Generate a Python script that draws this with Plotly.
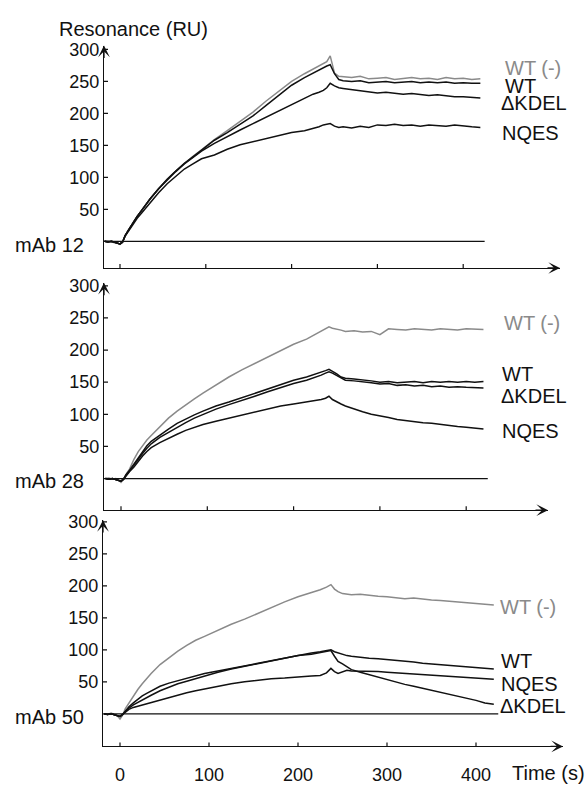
import plotly.graph_objects as go

# ---------------- data ----------------
TIME = [-18, -14, -10, -6, -3, 0, 3, 6, 10, 15, 20, 25, 30, 35, 45, 55, 65, 75, 85, 95,
        110, 125, 140, 155, 170, 185, 200, 215, 225, 232, 237, 241, 245, 250, 255, 260,
        270, 280, 290, 300, 310, 320, 330, 340, 350, 360, 370, 380, 390, 400, 410, 420]

SERIES = ["WT (-)", "WT", "\u0394KDEL", "NQES"]
PANEL_NAMES = ["mAb 12", "mAb 28", "mAb 50"]
Y_TICKS = [50, 100, 150, 200, 250, 300]
X_TICKS = [0, 100, 200, 300, 400]
BASELINE_END = 425

# mAb 12
MAB12_WT_NEG = [0, 1, -1, -2, -3, -5, -2, 9, 18, 29, 39, 48, 57, 66, 82, 97, 110, 122, 133, 143,
                159, 173, 187, 202, 219, 234, 250, 262, 269, 274, 278, 281, 290, 263, 258, 257,
                256, 258, 254, 255, 256, 253, 255, 256, 254, 255, 253, 256, 254, 255, 253, 254]
MAB12_WT = [0, -1, 0, -2, -3, -4, -1, 9, 18, 29, 39, 48, 57, 66, 82, 97, 110, 122, 132, 142,
            158, 170, 183, 196, 212, 228, 244, 256, 263, 268, 272, 274, 276, 262, 253, 251,
            250, 251, 248, 249, 250, 248, 249, 250, 248, 249, 248, 249, 247, 248, 247, 247]
MAB12_DKDEL = [0, -1, 0, -2, -3, -4, -1, 9, 18, 29, 39, 48, 57, 66, 82, 96, 109, 121, 131, 141,
               153, 164, 174, 184, 194, 203, 214, 223, 230, 233, 236, 240, 247, 243, 240, 239,
               237, 236, 233, 232, 233, 231, 230, 231, 229, 228, 229, 227, 226, 226, 225, 224]
MAB12_NQES = [0, -1, 0, -2, -3, -4, -1, 8, 16, 27, 36, 44, 52, 60, 76, 90, 102, 113, 121, 129,
              135, 144, 151, 156, 161, 166, 170, 173, 176, 179, 182, 183, 184, 180, 178, 179,
              177, 180, 178, 182, 181, 183, 181, 182, 180, 182, 181, 180, 182, 180, 179, 178]

# mAb 28
MAB28_WT_NEG = [0, 1, -1, 0, -2, -6, -1, 7, 15, 30, 42, 52, 60, 67, 81, 94, 105, 115, 124, 133,
                146, 158, 169, 179, 190, 200, 209, 217, 224, 229, 232, 236, 234, 233, 231, 229,
                230, 228, 229, 224, 233, 232, 231, 233, 232, 231, 233, 232, 231, 233, 232, 232]
MAB28_WT = [0, -1, 0, -2, -3, -4, -1, 6, 13, 23, 33, 42, 51, 58, 68, 77, 86, 93, 99, 105,
            113, 119, 126, 133, 140, 147, 153, 158, 162, 165, 168, 170, 167, 163, 158, 156,
            155, 154, 152, 150, 151, 149, 150, 151, 149, 151, 150, 151, 150, 151, 150, 151]
MAB28_DKDEL = [0, -1, 0, -2, -3, -4, -1, 6, 12, 21, 31, 39, 47, 54, 64, 72, 80, 87, 94, 100,
               108, 115, 121, 128, 135, 142, 148, 153, 157, 161, 164, 166, 164, 160, 156, 153,
               152, 151, 149, 147, 148, 145, 146, 144, 145, 143, 144, 142, 143, 142, 141, 141]
MAB28_NQES = [0, -1, 0, -2, -3, -4, -1, 5, 11, 18, 27, 35, 42, 48, 56, 63, 69, 75, 80, 84,
              89, 94, 99, 104, 109, 113, 116, 119, 121, 123, 125, 128, 123, 119, 116, 113,
              108, 104, 100, 98, 95, 92, 90, 89, 87, 86, 84, 83, 81, 80, 78, 77]

# mAb 50
MAB50_WT_NEG = [0, -1, 1, -2, -3, -8, -2, 8, 17, 28, 38, 47, 55, 63, 77, 88, 98, 107, 115, 121,
                131, 140, 148, 157, 167, 175, 183, 189, 194, 198, 202, 195, 191, 188, 187, 186,
                187, 185, 184, 183, 182, 180, 181, 179, 178, 177, 176, 174, 173, 172, 171, 170]
MAB50_WT = [0, -1, 0, -2, -3, -4, -1, 5, 11, 17, 23, 28, 32, 36, 43, 48, 52, 56, 60, 63,
            67, 71, 75, 80, 84, 88, 92, 95, 97, 99, 100, 97, 95, 93, 91, 90,
            88, 87, 86, 85, 84, 82, 81, 79, 78, 77, 75, 74, 73, 72, 71, 70]
MAB50_DKDEL = [0, -1, 0, -2, -3, -4, -1, 4, 9, 14, 18, 22, 26, 29, 36, 42, 47, 51, 55, 60,
               65, 70, 74, 79, 83, 87, 91, 93, 96, 98, 99, 90, 82, 78, 73, 69,
               65, 61, 57, 53, 50, 46, 43, 40, 37, 34, 30, 27, 24, 21, 17, 15]
MAB50_NQES = [0, -1, 0, -2, -3, -4, -1, 3, 7, 10, 12, 14, 16, 18, 22, 26, 29, 33, 36, 39,
              43, 47, 50, 53, 55, 56, 57, 59, 60, 64, 71, 66, 63, 65, 68, 67,
              67, 66, 66, 65, 64, 63, 63, 61, 60, 60, 59, 58, 57, 56, 54, 54]

PANEL_DATA = [
    [MAB12_WT_NEG, MAB12_WT, MAB12_DKDEL, MAB12_NQES],
    [MAB28_WT_NEG, MAB28_WT, MAB28_DKDEL, MAB28_NQES],
    [MAB50_WT_NEG, MAB50_WT, MAB50_DKDEL, MAB50_NQES],
]

# ---------------- layout geometry (pixels of the 587x785 page) ----------------
W, H = 587, 785
GEOM = [
    # x of t=0, px per s, y-axis x, arrow x, y of 0 RU, px per RU, arrow y, x-axis y
    dict(x0=120, sx=0.858, left=104, right=560, y0=236, sy=0.647, top=38, bottom=263),
    dict(x0=121, sx=0.863, left=104, right=548, y0=476, sy=0.650, top=278, bottom=508),
    dict(x0=120, sx=0.890, left=103, right=563, y0=714, sy=0.647, top=518, bottom=747),
]
# label positions: (x left, y centre) for each series, per panel
LABEL_POS = [
    [(503, 61), (503, 79), (499, 96), (500, 126)],
    [(502, 319), (500, 370), (499, 393), (500, 428)],
    [(498, 606), (499, 661), (498, 706), (499, 684)],
]
MAB_LABEL_Y = [240, 478, 717]

FONT = "Liberation Sans, Arial, Helvetica, sans-serif"
GRAY = "#8a8a8a"
BLACK = "#111111"
COLORS = [GRAY, BLACK, BLACK, BLACK]


def px_x(p):
    return p / W


def px_y(p):
    return 1 - p / H


fig = go.Figure()
shapes = []
annotations = []

for i, g in enumerate(GEOM):
    n = "" if i == 0 else str(i + 1)
    xr = [(g["left"] - g["x0"]) / g["sx"], (g["right"] - g["x0"]) / g["sx"]]
    yr = [-(g["bottom"] - g["y0"]) / g["sy"], (g["y0"] - g["top"]) / g["sy"]]
    xref, yref = "x" + n, "y" + n

    for k, vals in enumerate(PANEL_DATA[i]):
        fig.add_trace(go.Scatter(x=TIME, y=vals, mode="lines", xaxis=xref, yaxis=yref,
                                 line=dict(color=COLORS[k], width=1.5), hoverinfo="skip",
                                 showlegend=False))

    fig.layout["xaxis" + n] = dict(
        domain=[px_x(g["left"]), px_x(g["right"])], range=xr, anchor=yref,
        showline=True, linecolor=BLACK, linewidth=1.3, showgrid=False, zeroline=False,
        ticks="", tickvals=X_TICKS, showticklabels=(i == 2),
        tickfont=dict(family=FONT, size=18, color=BLACK), ticklabelstandoff=12,
        fixedrange=True)
    fig.layout["yaxis" + n] = dict(
        domain=[px_y(g["bottom"]), px_y(g["top"])], range=yr, anchor=xref,
        showline=True, linecolor=BLACK, linewidth=1.3, showgrid=False, zeroline=False,
        ticks="", tickvals=Y_TICKS, showticklabels=True,
        tickfont=dict(family=FONT, size=18, color=BLACK), ticklabelstandoff=0,
        fixedrange=True)

    # baseline
    shapes.append(dict(type="line", xref=xref, yref=yref, x0=xr[0], x1=BASELINE_END,
                       y0=0, y1=0, line=dict(color=BLACK, width=1.2)))
    # x ticks (crossing the axis)
    for v in X_TICKS:
        shapes.append(dict(type="line", xref=xref, yref=yref, x0=v, x1=v,
                           ysizemode="pixel", yanchor=yr[0], y0=-3, y1=4,
                           line=dict(color=BLACK, width=1.2)))
    # y ticks
    for v in Y_TICKS:
        shapes.append(dict(type="line", xref=xref, yref=yref, y0=v, y1=v,
                           xsizemode="pixel", xanchor=xr[0], x0=0, x1=4,
                           line=dict(color=BLACK, width=1.2)))
    # arrows
    annotations.append(dict(xref=xref, yref=yref, x=xr[1], y=yr[0], ax=-14, ay=0,
                            showarrow=True, arrowhead=3, arrowsize=1.5, arrowwidth=1.3,
                            arrowcolor=BLACK, text=""))
    annotations.append(dict(xref=xref, yref=yref, x=xr[0], y=yr[1], ax=0, ay=14,
                            showarrow=True, arrowhead=3, arrowsize=1.5, arrowwidth=1.3,
                            arrowcolor=BLACK, text=""))
    # series labels
    for k, name in enumerate(SERIES):
        lx, ly = LABEL_POS[i][k]
        annotations.append(dict(xref="paper", yref="paper", x=px_x(lx), y=px_y(ly),
                                xanchor="left", yanchor="middle", showarrow=False,
                                text=name, font=dict(family=FONT, size=20, color=COLORS[k])))
    annotations.append(dict(xref="paper", yref="paper", x=px_x(86), y=px_y(MAB_LABEL_Y[i]),
                            xanchor="right", yanchor="middle", showarrow=False,
                            text=PANEL_NAMES[i], font=dict(family=FONT, size=20, color=BLACK)))

annotations.append(dict(xref="paper", yref="paper", x=px_x(57), y=px_y(21), xanchor="left",
                        yanchor="middle", showarrow=False, text="Resonance (RU)",
                        font=dict(family=FONT, size=20, color=BLACK)))
annotations.append(dict(xref="paper", yref="paper", x=px_x(510), y=px_y(774), xanchor="left",
                        yanchor="middle", showarrow=False, text="Time (s)",
                        font=dict(family=FONT, size=20, color=BLACK)))

fig.update_layout(width=W, height=H, margin=dict(l=0, r=0, t=0, b=0),
                  paper_bgcolor="white", plot_bgcolor="white", showlegend=False,
                  shapes=shapes, annotations=annotations)

POST = ("document.documentElement.style.margin='0';document.documentElement.style.padding='0';"
        "document.body.style.margin='0';document.body.style.padding='0';"
        "document.body.style.overflow='hidden';")
fig.write_html("out.html", config={"displayModeBar": False}, post_script=POST)
